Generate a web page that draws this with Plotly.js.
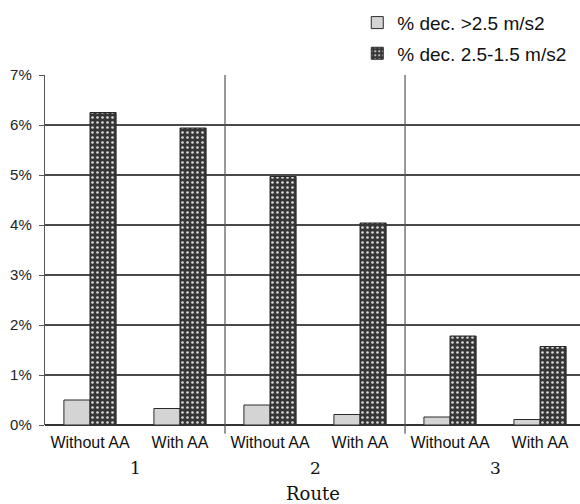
<!DOCTYPE html>
<html>
<head>
<meta charset="utf-8">
<script src="https://cdn.plot.ly/plotly-3.0.1.min.js"></script>
<style>html,body{margin:0;padding:0;background:#fff;}#chart{width:580px;height:504px;}</style>
</head>
<body>
<div id="chart"></div>
<script>
// ---- data ----
const routes = ['1', '2', '3'];
const conditions = ['Without AA', 'With AA'];
const catLabels = ['Without AA', 'With AA', 'Without AA', 'With AA', 'Without AA', 'With AA'];
const catRoute = ['1', '1', '2', '2', '3', '3'];
const seriesNames = ['% dec. >2.5 m/s2', '% dec. 2.5-1.5 m/s2'];
const decAbove25 = [0.0050, 0.0033, 0.0040, 0.0021, 0.0016, 0.0011];
const dec25to15 = [0.0625, 0.0594, 0.0497, 0.0404, 0.0178, 0.0157];
const yTickVals = [0, 0.01, 0.02, 0.03, 0.04, 0.05, 0.06, 0.07];
const yTickText = ['0%', '1%', '2%', '3%', '4%', '5%', '6%', '7%'];
const axisTitle = 'Route';

const xIdx = catLabels.map((_, i) => i);

const traces = [
  {
    type: 'bar', name: seriesNames[0], x: xIdx, y: decAbove25,
    legendgroup: 'a',
    marker: {color: '#d4d4d4', line: {color: '#2a2a2a', width: 1}},
    hoverinfo: 'none'
  },
  {
    type: 'bar', name: seriesNames[1], x: xIdx, y: dec25to15,
    legendgroup: 'b',
    marker: {
      color: '#3a3a3a',
      line: {color: '#2a2a2a', width: 1},
      pattern: {shape: '.', bgcolor: '#363636', fgcolor: '#d8d8d8', size: 5, solidity: 0.22, fillmode: 'replace'}
    },
    hoverinfo: 'none'
  }
];

// group separators between routes
const shapes = [];
for (let g = 1; g < routes.length; g++) {
  const xpos = g * conditions.length - 0.5;
  shapes.push({type: 'line', xref: 'x', yref: 'paper', x0: xpos, x1: xpos, y0: -0.025, y1: 1,
    line: {color: '#555', width: 1.2}});
}

const serif = 'DejaVu Serif, Liberation Serif, serif';
const annotations = routes.map((r, g) => ({
  xref: 'x', yref: 'paper', x: g * conditions.length + (conditions.length - 1) / 2, y: -0.124,
  text: r, showarrow: false, yanchor: 'middle',
  font: {family: serif, size: 17, color: '#111'}
}));
annotations.push({
  xref: 'paper', yref: 'paper', x: 0.5, y: -0.197, text: axisTitle, showarrow: false,
  yanchor: 'middle', font: {family: serif, size: 18, color: '#111'}
});

const layout = {
  width: 580, height: 504,
  margin: {l: 45, r: 0, t: 75, b: 79, pad: 0, autoexpand: false},
  paper_bgcolor: '#fff', plot_bgcolor: '#fff',
  barmode: 'group', bargap: 0.42, bargroupgap: 0,
  showlegend: true,
  legend: {
    xref: 'container', yref: 'container', x: 0.616, y: 0.9926, xanchor: 'left', yanchor: 'top',
    font: {family: 'Liberation Sans, Arial, sans-serif', size: 19, color: '#111'},
    tracegroupgap: 3, bgcolor: 'rgba(0,0,0,0)'
  },
  xaxis: {
    range: [-0.5, 5.444], tickvals: xIdx, ticktext: catLabels,
    showgrid: false, zeroline: false, showline: false, ticks: '',
    ticklabelstandoff: 6,
    tickfont: {family: 'Liberation Sans, Arial, sans-serif', size: 16, color: '#111'},
    fixedrange: true
  },
  yaxis: {
    range: [0, 0.07], tickvals: yTickVals, ticktext: yTickText,
    showgrid: true, gridcolor: '#4a4a4a', gridwidth: 1.2,
    zeroline: true, zerolinecolor: '#333', zerolinewidth: 1.4,
    showline: true, linecolor: '#555', linewidth: 1.2,
    ticks: 'outside', ticklen: 5, tickcolor: '#555',
    ticklabelstandoff: 4,
    tickfont: {family: 'Liberation Sans, Arial, sans-serif', size: 15, color: '#222'},
    fixedrange: true
  },
  shapes: shapes,
  annotations: annotations
};

Plotly.newPlot('chart', traces, layout, {displayModeBar: false, staticPlot: true});
</script>
</body>
</html>
